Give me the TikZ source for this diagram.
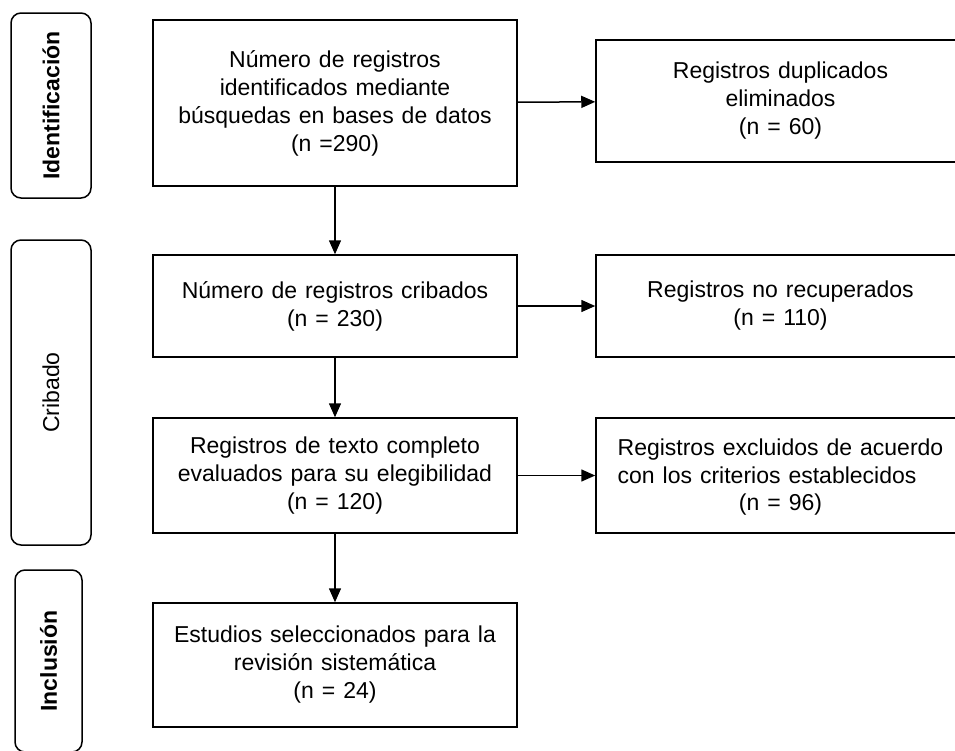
\documentclass[tikz,border=0pt]{standalone}
\usepackage{fontspec}
\setmainfont{Liberation Sans}[WordSpace=1.25]
\usetikzlibrary{arrows.meta}

\begin{document}
\begin{tikzpicture}[x=0.5pt,y=-0.5pt,
	box/.style={draw,line width=0.75pt,align=center,font=\fontsize{11.5}{14}\selectfont},
	leftbox/.style={box,minimum width=182pt},
	rightbox/.style={box,minimum width=184.5pt},
	phase/.style={draw,line width=0.75pt,rounded corners=5pt,rotate=90,font=\fontsize{11.5}{14}\selectfont},
	flow/.style={line width=0.75pt,-{Triangle[length=7pt,width=6pt]}}]
	\useasboundingbox (0,0) rectangle (955,751);
	% fases
	\node[phase,minimum width=92.5pt,minimum height=40pt] (ident) at (51,105.5)
		{\bfseries Identificación};
	\node[phase,minimum width=152.5pt,minimum height=40pt] (crib) at (51,392.5)
		{Cribado};
	\node[phase,minimum width=91pt,minimum height=33.5pt] (incl) at (48.5,661)
		{\bfseries Inclusión};
	% registros
	\node[leftbox,minimum height=83pt] (busq) at (335,103)
		{Número de registros\\identificados mediante\\búsquedas en bases de datos\\(n =290)};
	\node[rightbox,minimum height=61pt] (dupl) at (780.5,101)
		{Registros duplicados\\eliminados\\(n = 60)};
	\node[leftbox,minimum height=51pt] (crib1) at (335,306)
		{Número de registros cribados\\(n = 230)};
	\node[rightbox,minimum height=51pt] (norec) at (780.5,306)
		{Registros no recuperados\\(n = 110)};
	\node[leftbox,minimum height=57.5pt] (eleg) at (335,475.5)
		{Registros de texto completo\\evaluados para su elegibilidad\\(n = 120)};
	\node[rightbox,minimum height=57.5pt] (excl) at (780.5,475.5)
		{\begin{tabular}{@{}l@{}}Registros excluidos de acuerdo\\con los criterios establecidos\end{tabular}\\(n = 96)};
	\node[leftbox,minimum height=62pt] (estud) at (335,665)
		{Estudios seleccionados para la\\revisión sistemática\\(n = 24)};
	\draw[flow] (busq) -- (dupl);
	\draw[flow] (crib1) -- (norec);
	\draw[flow] (eleg) -- (excl);
	\draw[flow] (busq) -- (crib1);
	\draw[flow] (crib1) -- (eleg);
	\draw[flow] (eleg) -- (estud);
\end{tikzpicture}
\end{document}
